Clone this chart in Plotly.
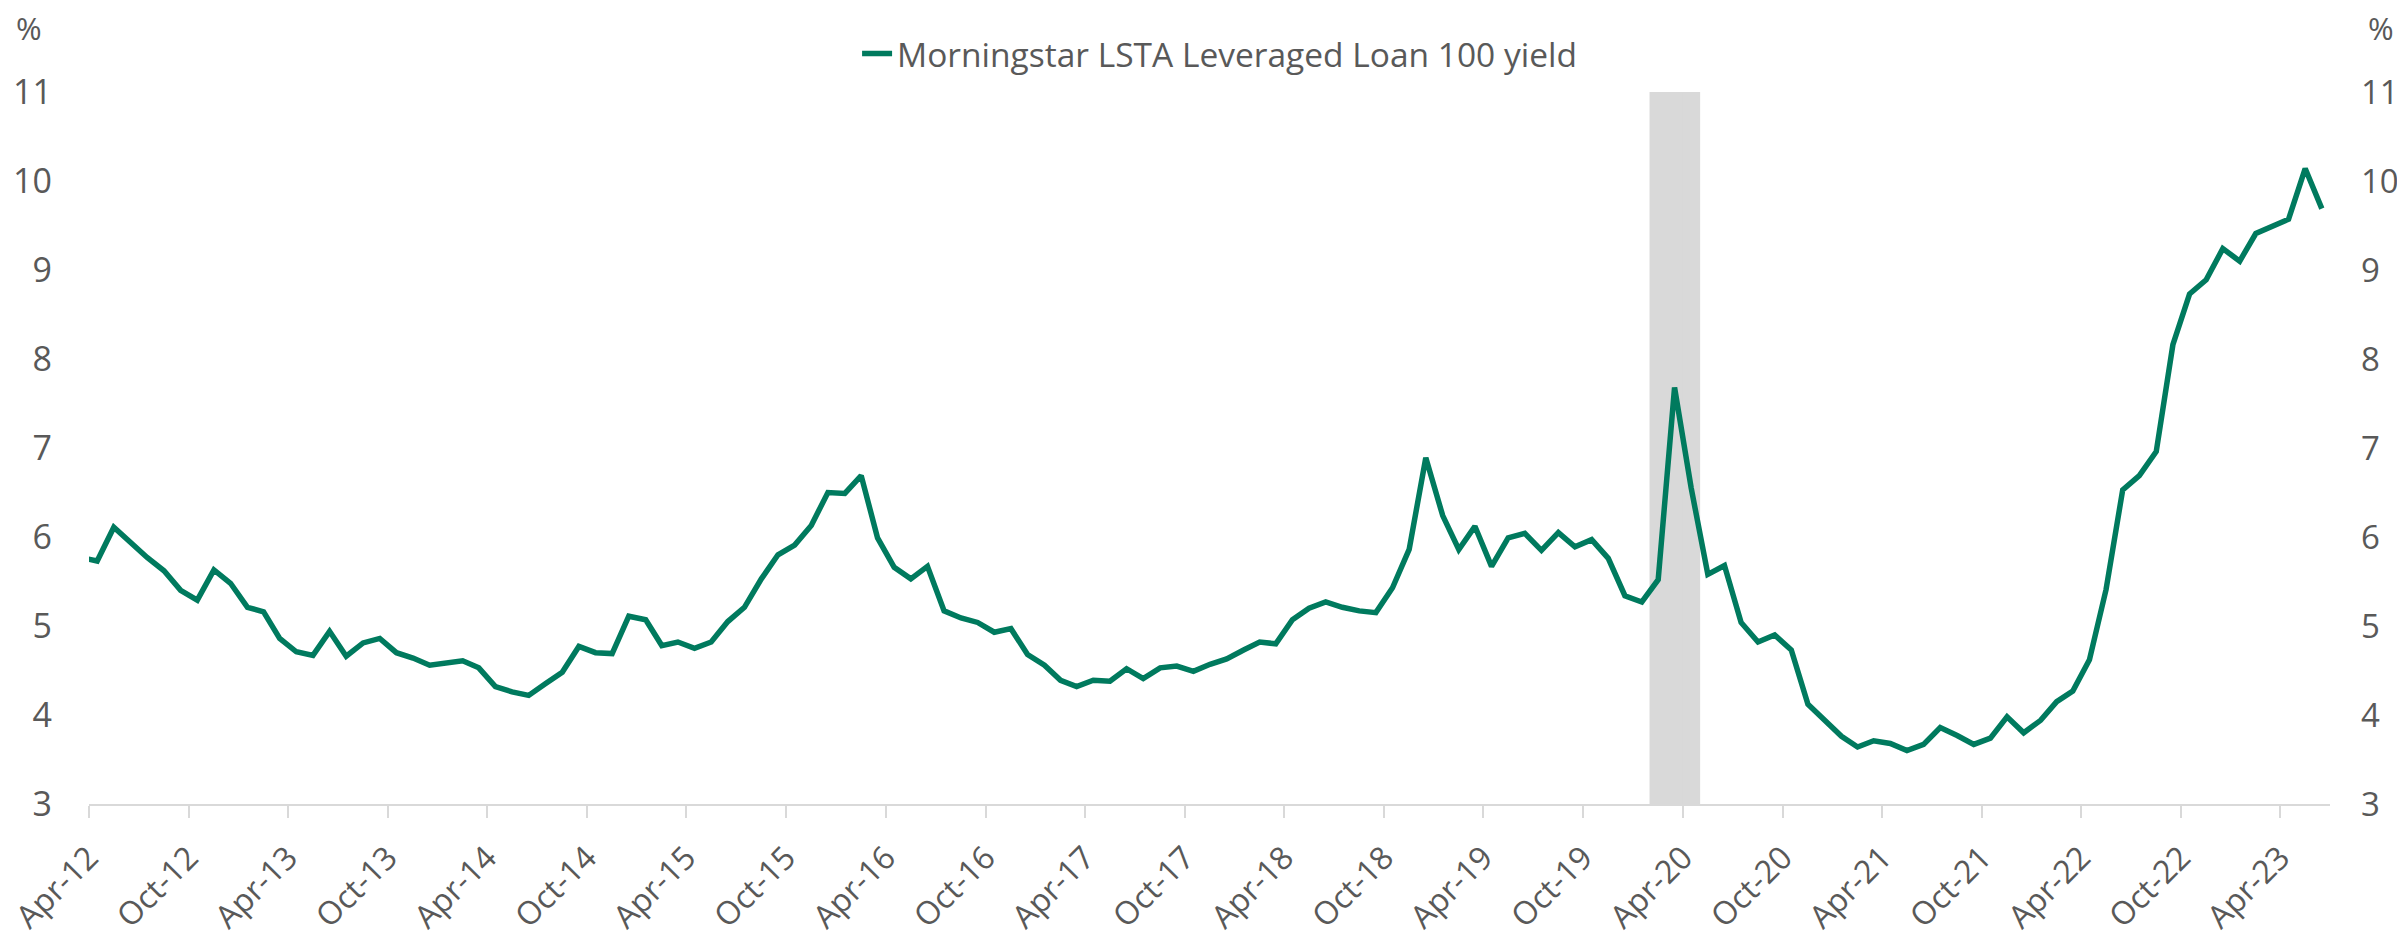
import pandas as pd
import plotly.graph_objects as go

# ---- data (monthly, Mar-2012 .. Jun-2023) ----
start_month = "2012-03"
end_month = "2023-06"
yield_values = [
    5.77,                                                        # Mar-12 (clipped at axis edge)
    5.73, 6.11, 5.94, 5.77, 5.62, 5.40, 5.29, 5.63, 5.48,        # Apr-12 .. Dec-12
    5.21, 5.16, 4.86, 4.71, 4.67, 4.94, 4.66, 4.81, 4.86, 4.70, 4.64, 4.56,  # 2013
    4.59, 4.61, 4.53, 4.32, 4.26, 4.22, 4.35, 4.48, 4.77, 4.70, 4.69, 5.11,  # 2014
    5.07, 4.78, 4.82, 4.75, 4.82, 5.05, 5.21, 5.53, 5.80, 5.91, 6.13, 6.50,  # 2015
    6.49, 6.69, 5.99, 5.66, 5.53, 5.67, 5.17, 5.09, 5.04, 4.93, 4.97, 4.68,  # 2016
    4.56, 4.39, 4.32, 4.39, 4.38, 4.52, 4.41, 4.53, 4.55, 4.49, 4.57, 4.63,  # 2017
    4.73, 4.82, 4.80, 5.07, 5.20, 5.27, 5.21, 5.17, 5.15, 5.43, 5.86, 6.89,  # 2018
    6.24, 5.86, 6.12, 5.67, 5.99, 6.04, 5.85, 6.05, 5.89, 5.97, 5.76, 5.34,  # 2019
    5.27, 5.52, 7.68, 6.55, 5.58, 5.68, 5.04, 4.82, 4.90, 4.73, 4.12, 3.95,  # 2020
    3.76, 3.64, 3.71, 3.68, 3.60, 3.67, 3.86, 3.77, 3.67, 3.74, 3.98, 3.80,  # 2021
    3.94, 4.15, 4.27, 4.62, 5.41, 6.53, 6.69, 6.96, 8.16, 8.73, 8.89, 9.24,  # 2022
    9.10, 9.41, 9.49, 9.57, 10.14, 9.69,                                     # 2023
]
recession_months = ["2020-02", "2020-03", "2020-04"]
recession_values = [11, 11, 11]

series_name = "Morningstar LSTA Leveraged Loan 100 yield"
axis_start = "2012-04-01"
axis_end = "2023-07-01"
y_min, y_max = 3, 11

# ---- positions: each month's point at the middle of its month slot ----
months = pd.period_range(start_month, end_month, freq="M")
m_start = months.to_timestamp(how="start")
m_next = (months + 1).to_timestamp(how="start")
x_mid = m_start + (m_next - m_start) / 2

rec = pd.PeriodIndex(recession_months, freq="M")
rec_start = rec.to_timestamp(how="start")
rec_width = [((p + 1).to_timestamp() - p.to_timestamp()).total_seconds() * 1000 for p in rec]

GREEN = "#007A5E"
GREY_TXT = "#595959"
BAR_GREY = "#D9D9D9"
FONT = "Open Sans"

fig = go.Figure()
fig.add_trace(go.Bar(
    x=rec_start, y=recession_values, width=rec_width, offset=0,
    marker=dict(color=BAR_GREY, line=dict(width=1.5, color=BAR_GREY)),
    showlegend=False, hoverinfo="skip",
))
fig.add_trace(go.Scatter(
    x=x_mid, y=yield_values, mode="lines", name=series_name,
    line=dict(color=GREEN, width=5.5),
))
# invisible trace for the right axis
fig.add_trace(go.Scatter(
    x=[x_mid[1]], y=[y_min], yaxis="y2", mode="markers",
    marker=dict(opacity=0), showlegend=False, hoverinfo="skip",
))

ytickfont = dict(family=FONT, size=34, color=GREY_TXT)
y2tickfont = dict(family=FONT, size=33, color=GREY_TXT)
xtickfont = dict(family=FONT, size=32, color=GREY_TXT)

# page has an 8px body margin: figure is sized/offset so the plot lands where the reference has it
fig.update_layout(
    width=2397, height=925,
    margin=dict(l=81, r=75, t=84, b=129, autoexpand=False),
    paper_bgcolor="white", plot_bgcolor="white",
    barmode="overlay",
    font=dict(family=FONT, color=GREY_TXT),
    xaxis=dict(
        type="date", range=[axis_start, axis_end],
        tick0=axis_start, dtick="M6", tickformat="%b-%y",
        tickangle=-45, tickfont=xtickfont, automargin=False,
        ticklabeloverflow="allow",
        showgrid=False, zeroline=False,
        showline=True, linecolor=BAR_GREY, linewidth=2,
        ticks="outside", ticklen=12, tickwidth=2, tickcolor=BAR_GREY,
        ticklabelstandoff=8,
    ),
    yaxis=dict(
        range=[y_min, y_max], dtick=1, tickfont=ytickfont, automargin=False,
        showgrid=False, zeroline=False, showline=False, ticks="",
        ticklabelstandoff=36,
    ),
    yaxis2=dict(
        range=[y_min, y_max], dtick=1, tickfont=y2tickfont, overlaying="y",
        side="right", showgrid=False, zeroline=False, showline=False, ticks="",
        ticklabelstandoff=30, automargin=False, ticklabeloverflow="allow",
    ),
    legend=dict(
        orientation="h", x=0.5045, xanchor="center", y=1.0538, yanchor="middle",
        font=dict(family=FONT, size=33.5, color=GREY_TXT),
        bgcolor="rgba(0,0,0,0)",
    ),
    annotations=[
        dict(text="%", xref="paper", yref="paper", x=-0.0268, y=1.0892,
             xanchor="center", yanchor="middle",
             showarrow=False, font=dict(family=FONT, size=31, color=GREY_TXT)),
        dict(text="%", xref="paper", yref="paper", x=1.0228, y=1.0892,
             xanchor="center", yanchor="middle",
             showarrow=False, font=dict(family=FONT, size=31, color=GREY_TXT)),
    ],
)

fig.write_html("out.html")
